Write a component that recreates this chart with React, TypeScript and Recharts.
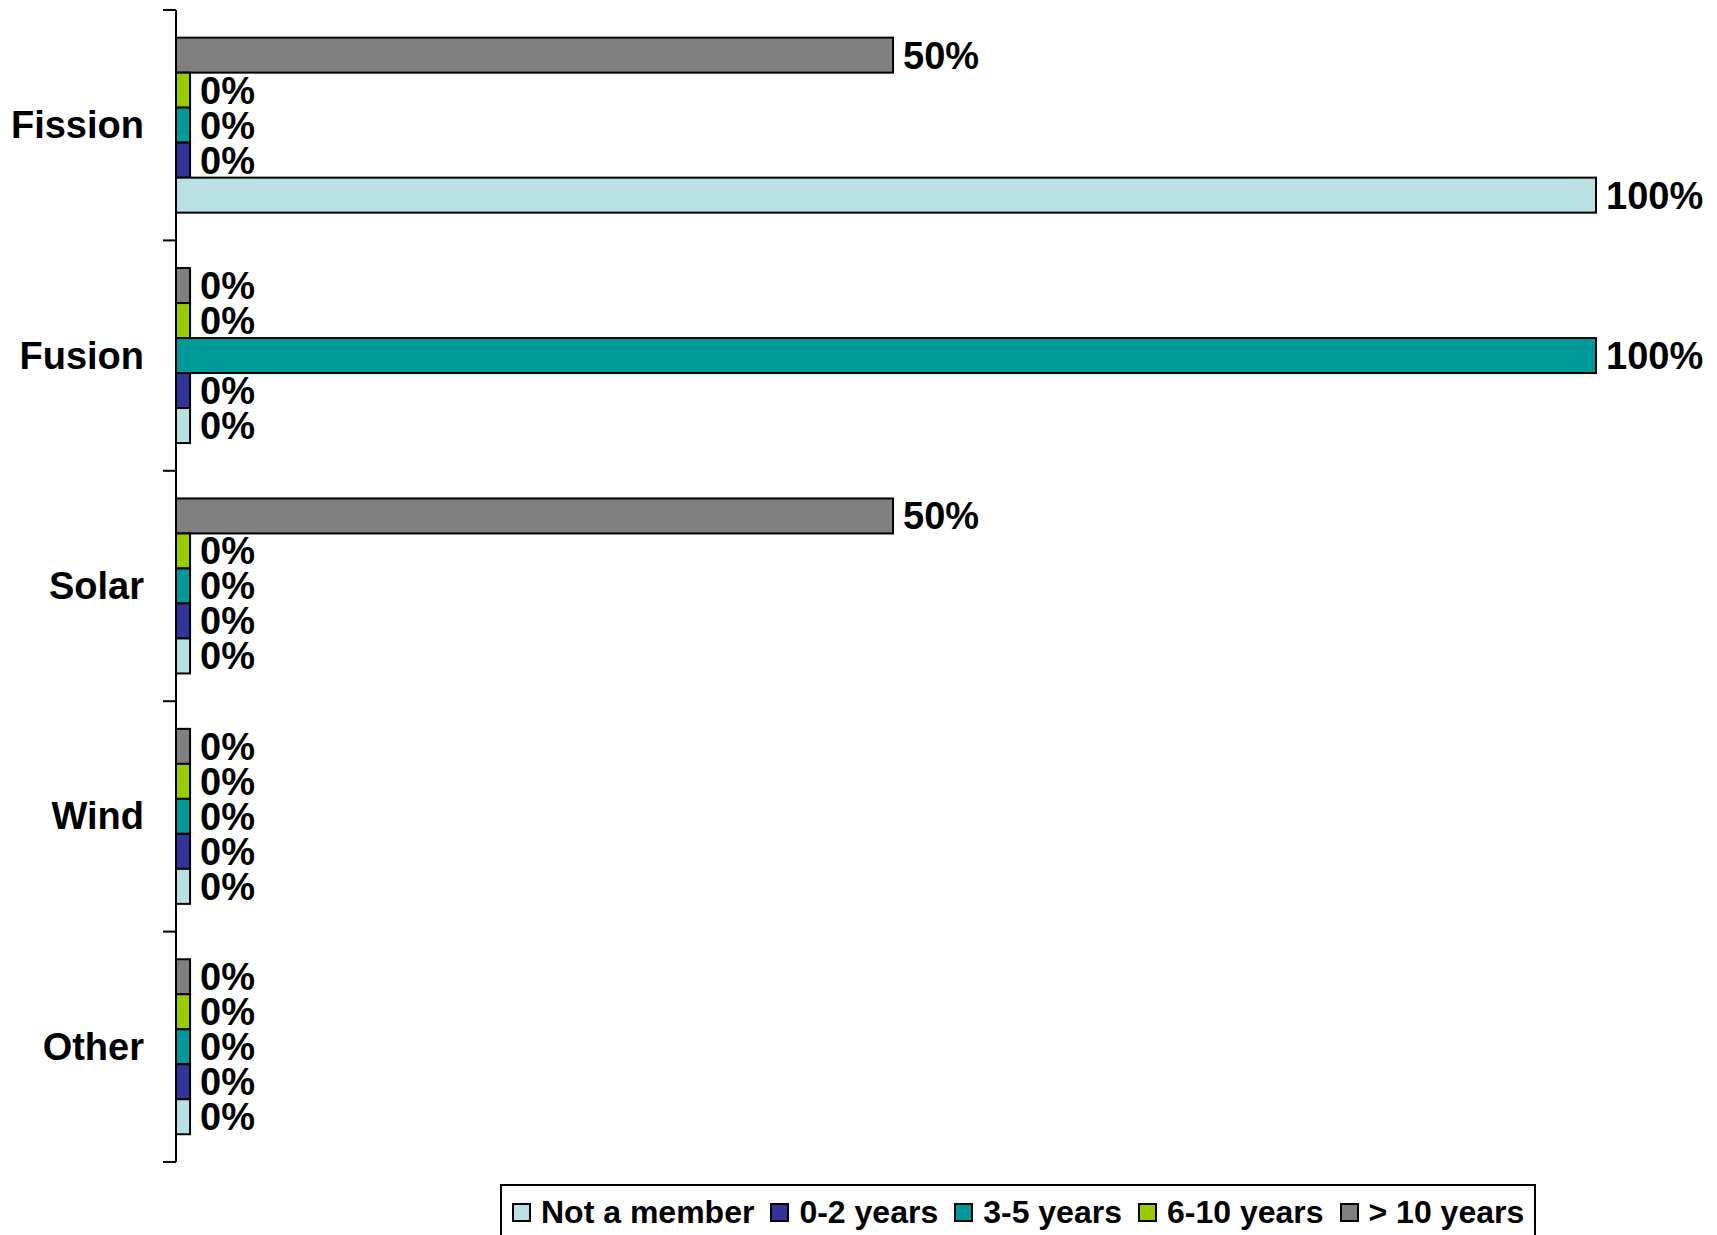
import React from "react";
import { BarChart, Bar, XAxis, YAxis, LabelList } from "recharts";

const categories = ["Fission", "Fusion", "Solar", "Wind", "Other"];
const notMember = [100, 0, 0, 0, 0];
const years0to2 = [0, 0, 0, 0, 0];
const years3to5 = [0, 100, 0, 0, 0];
const years6to10 = [0, 0, 0, 0, 0];
const over10 = [50, 0, 50, 0, 0];

// legend order (bottom bar first), bars are drawn top-down in reverse
const series = [
  { key: "notMember", name: "Not a member", color: "#B9E0E2", values: notMember },
  { key: "years0to2", name: "0-2 years", color: "#333399", values: years0to2 },
  { key: "years3to5", name: "3-5 years", color: "#009999", values: years3to5 },
  { key: "years6to10", name: "6-10 years", color: "#99CC00", values: years6to10 },
  { key: "over10", name: "> 10 years", color: "#808080", values: over10 },
];

const data = categories.map((c, i) => {
  const row: Record<string, string | number> = { category: c };
  series.forEach((s) => (row[s.key] = s.values[i]));
  return row;
});

const FONT = "'Liberation Sans', Arial, sans-serif";

// bars start at the axis line (domain min), like the original
function AxisBar(props: any) {
  const { x, y, width, height, fill, background } = props;
  const left = background?.x ?? x;
  const w = x + width - left;
  return <rect x={left} y={y} width={Math.max(w, 0)} height={height} fill={fill} stroke="#000" strokeWidth={2} />;
}

function CategoryTick(props: any) {
  const { x, y, payload, index, visibleTicksCount } = props;
  const half = payload?.offset || 115;
  return (
    <g>
      <line x1={x - 13} x2={x} y1={y - half} y2={y - half} stroke="#000" strokeWidth={2} />
      {index === visibleTicksCount - 1 && (
        <line x1={x - 13} x2={x} y1={y + half} y2={y + half} stroke="#000" strokeWidth={2} />
      )}
      <text x={x - 32} y={y} textAnchor="end" dominantBaseline="central" fontSize={38} fontWeight="bold" fill="#000" fontFamily={FONT}>
        {payload.value}
      </text>
    </g>
  );
}

export default function App() {
  return (
    <div style={{ position: "absolute", left: 0, top: 0, width: 1717, height: 1235, overflow: "hidden", background: "#fff", fontFamily: FONT }}>
      <BarChart
        width={1717}
        height={1235}
        data={data}
        layout="vertical"
        margin={{ top: 10, right: 121, bottom: 73, left: 0 }}
        barCategoryGap="12%"
        barGap={0}
      >
        <XAxis type="number" domain={[-1, 100]} hide />
        <YAxis
          type="category"
          dataKey="category"
          width={176}
          tickSize={0}
          tickMargin={0}
          tickLine={false}
          axisLine={{ stroke: "#000", strokeWidth: 2 }}
          tick={<CategoryTick />}
          interval={0}
        />
        {[...series].reverse().map((s) => (
          <Bar key={s.key} dataKey={s.key} name={s.name} fill={s.color} shape={<AxisBar />} isAnimationActive={false}>
            <LabelList
              dataKey={s.key}
              position="right"
              offset={10}
              formatter={(v: any) => `${v}%`}
              style={{ fontSize: 38, fontWeight: "bold", fill: "#000", fontFamily: FONT }}
            />
          </Bar>
        ))}
      </BarChart>
      <div
        style={{
          position: "absolute",
          left: 500,
          top: 1184,
          width: 1036,
          height: 62,
          border: "2px solid #000",
          boxSizing: "border-box",
          display: "flex",
          alignItems: "flex-start",
          paddingTop: 8,
          paddingLeft: 10,
          fontSize: 32,
          fontWeight: "bold",
          color: "#000",
          whiteSpace: "nowrap",
        }}
      >
        {series.map((s) => (
          <span key={s.key} style={{ display: "inline-flex", alignItems: "center", marginRight: 16 }}>
            <span style={{ display: "inline-block", width: 15, height: 15, background: s.color, border: "2px solid #000", marginRight: 10 }} />
            {s.name}
          </span>
        ))}
      </div>
    </div>
  );
}
